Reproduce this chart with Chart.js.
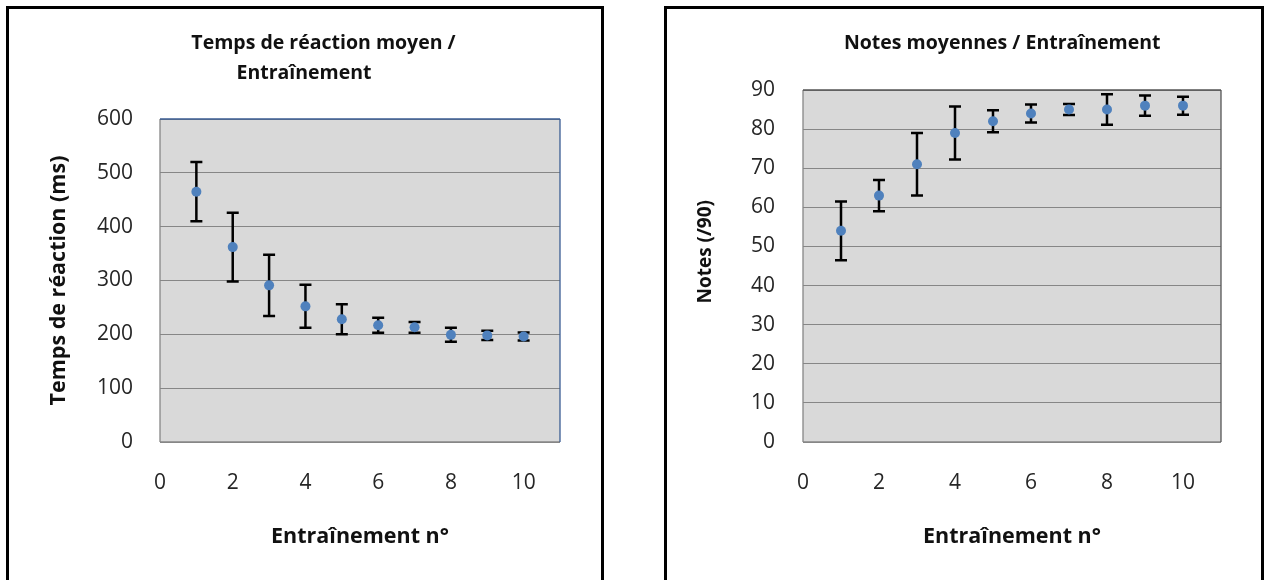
<!DOCTYPE html>
<html lang="fr">
<head>
<meta charset="utf-8">
<title>Temps de réaction et notes / Entraînement</title>
<script src="https://cdn.jsdelivr.net/npm/chart.js@4.4.1/dist/chart.umd.min.js"></script>
<style>
  html, body { margin: 0; padding: 0; background: #fff; overflow: hidden; }
  body { width: 1272px; height: 580px; position: relative; }
  .frame { position: absolute; top: 6px; height: 620px; border: 3px solid #000; box-sizing: border-box; }
  #frameLeft { left: 6px; width: 598px; }
  #frameRight { left: 664px; width: 600px; }
  canvas { position: absolute; left: 0; top: 0; }
</style>
</head>
<body>
<div class="frame" id="frameLeft"><canvas id="reactionChart" width="592" height="571"></canvas></div>
<div class="frame" id="frameRight"><canvas id="notesChart" width="594" height="571"></canvas></div>

<script>
// data
const trials = [1, 2, 3, 4, 5, 6, 7, 8, 9, 10];
const trialTicks = [0, 2, 4, 6, 8, 10];

const reactionMean = [465, 362, 291, 252, 228, 217, 213, 199, 198, 196];
const reactionErr = [55, 64, 57, 40, 28, 14, 10, 13, 8.5, 7.5];
const reactionTicks = [0, 100, 200, 300, 400, 500, 600];

const notesMean = [54, 63, 71, 79, 82, 84, 85, 85, 86, 86];
const notesErr = [7.5, 4, 8, 6.8, 2.8, 2.3, 1.4, 3.9, 2.6, 2.3];
const notesTicks = [0, 10, 20, 30, 40, 50, 60, 70, 80, 90];

Chart.defaults.font.family = "'Open Sans', 'DejaVu Sans', sans-serif";
Chart.defaults.color = '#262626';

// grey plot area, its edges and the error bars (drawn under the markers)
const plotBox = {
  id: 'plotBox',
  beforeDraw(chart, args, opts) {
    const { ctx, chartArea: a } = chart;
    ctx.save();
    ctx.fillStyle = opts.fill;
    ctx.fillRect(a.left, a.top, a.width, a.height);
    ctx.restore();
  },
  beforeDatasetsDraw(chart, args, opts) {
    const { ctx, chartArea: a } = chart;
    ctx.save();
    ctx.lineWidth = 1.3;
    const edge = (color, x1, y1, x2, y2) => {
      ctx.strokeStyle = color;
      ctx.beginPath();
      ctx.moveTo(x1, y1);
      ctx.lineTo(x2, y2);
      ctx.stroke();
    };
    edge(opts.left, a.left, a.top, a.left, a.bottom);
    edge(opts.bottom, a.left, a.bottom, a.right, a.bottom);
    edge(opts.top, a.left, a.top, a.right, a.top);
    edge(opts.right, a.right, a.top, a.right, a.bottom);

    const ds = chart.data.datasets[0];
    const xs = chart.scales.x;
    const ys = chart.scales.y;
    ctx.strokeStyle = '#000';
    ctx.lineWidth = 2.5;
    ds.data.forEach((p, i) => {
      const px = xs.getPixelForValue(p.x);
      const hi = ys.getPixelForValue(p.y + ds.errors[i]);
      const lo = ys.getPixelForValue(p.y - ds.errors[i]);
      ctx.beginPath();
      ctx.moveTo(px, hi); ctx.lineTo(px, lo);
      ctx.moveTo(px - 6, hi); ctx.lineTo(px + 6, hi);
      ctx.moveTo(px - 6, lo); ctx.lineTo(px + 6, lo);
      ctx.stroke();
    });
    ctx.restore();
  }
};

function points(values) {
  return trials.map((t, i) => ({ x: t, y: values[i] }));
}

function xScale(height, tickPad, titlePad) {
  return {
    type: 'linear',
    min: 0,
    max: 11,
    afterBuildTicks: s => { s.ticks = trialTicks.map(v => ({ value: v })); },
    afterFit: s => { s.height = height; },
    grid: { display: false, drawTicks: false },
    border: { display: false },
    ticks: { padding: tickPad, font: { size: 21, lineHeight: 1.2 } },
    title: {
      display: true,
      text: 'Entraînement n°',
      color: '#111',
      font: { size: 21.5, weight: 'bold', lineHeight: 1 },
      padding: { top: 0, bottom: titlePad }
    }
  };
}

function yScale(max, tickValues, label, labelSize, width, tickPad, titlePad) {
  return {
    type: 'linear',
    min: 0,
    max: max,
    afterBuildTicks: s => { s.ticks = tickValues.map(v => ({ value: v })); },
    afterFit: s => { s.width = width; },
    grid: { color: '#868686', lineWidth: 1, drawTicks: false },
    border: { display: false },
    ticks: { padding: tickPad, font: { size: 21, lineHeight: 1.2 } },
    title: {
      display: true,
      text: label,
      color: '#111',
      font: { size: labelSize, weight: 'bold', lineHeight: 1 },
      padding: { top: titlePad, bottom: 0 }
    }
  };
}

const markerStyle = {
  pointRadius: 5,
  pointBackgroundColor: '#4F81BD',
  pointBorderWidth: 0,
  showLine: false
};

new Chart(document.getElementById('reactionChart'), {
  type: 'scatter',
  data: {
    datasets: [{ data: points(reactionMean), errors: reactionErr, ...markerStyle }]
  },
  options: {
    responsive: false,
    animation: false,
    events: [],
    layout: { padding: { left: 39, right: 41, top: 0, bottom: 0 } },
    plugins: {
      legend: { display: false },
      tooltip: { enabled: false },
      title: {
        display: true,
        text: ['\u2003\u2003Temps de réaction moyen /', 'Entraînement'],
        color: '#111',
        font: { size: 19.5, weight: 'bold', lineHeight: 30 / 19.5 },
        padding: { top: 19, bottom: 31 }
      },
      plotBox: { fill: '#D9D9D9', left: '#868686', bottom: '#868686', top: '#3A5C93', right: '#3A5C93' }
    },
    scales: {
      x: xScale(138, 28.4, 32.25),
      y: yScale(600, reactionTicks, 'Temps de réaction (ms)', 21.5, 112, 27, 0)
    }
  },
  plugins: [plotBox]
});

new Chart(document.getElementById('notesChart'), {
  type: 'scatter',
  data: {
    datasets: [{ data: points(notesMean), errors: notesErr, ...markerStyle }]
  },
  options: {
    responsive: false,
    animation: false,
    events: [],
    layout: { padding: { left: 0, right: 40, top: 0, bottom: 0 } },
    plugins: {
      legend: { display: false },
      tooltip: { enabled: false },
      title: {
        display: true,
        fullSize: false,
        text: 'Notes moyennes / Entraînement\u2003',
        color: '#111',
        font: { size: 19.5, weight: 'bold', lineHeight: 30 / 19.5 },
        padding: { top: 19, bottom: 32 }
      },
      plotBox: { fill: '#D9D9D9', left: '#868686', bottom: '#868686', top: '#555555', right: '#555555' }
    },
    scales: {
      x: xScale(138, 28.4, 32.25),
      y: yScale(90, notesTicks, '\u2003\u2002Notes (/90)', 19, 136, 28, 29.5)
    }
  },
  plugins: [plotBox]
});
</script>
</body>
</html>
